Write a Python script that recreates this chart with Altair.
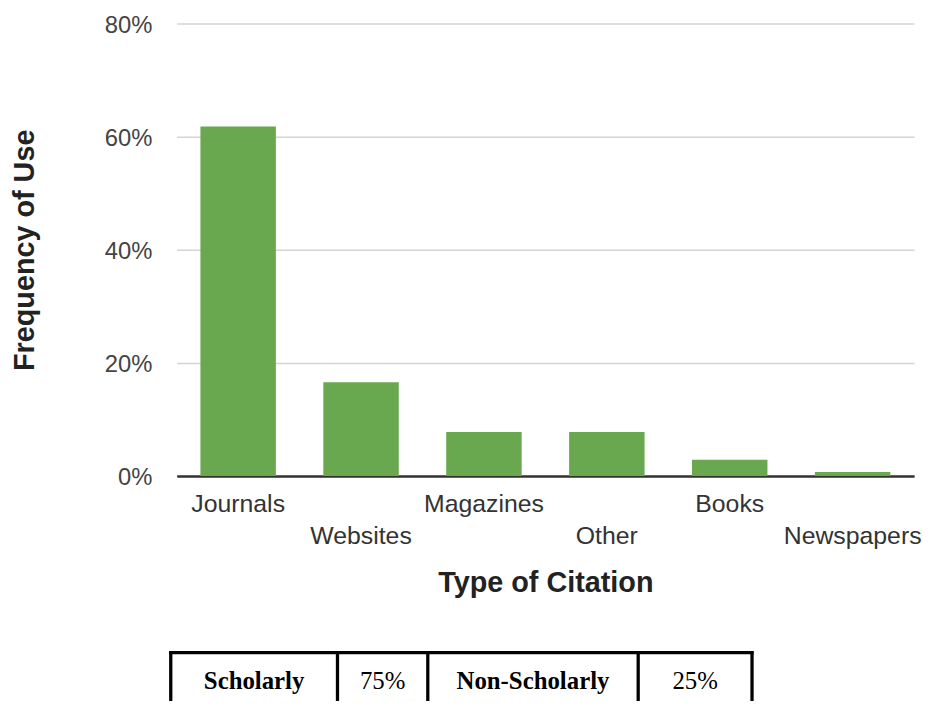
import altair as alt
import pandas as pd

# ---- data ----
categories = ["Journals", "Websites", "Magazines", "Other", "Books", "Newspapers"]
frequency = [0.618, 0.166, 0.078, 0.078, 0.029, 0.007]
y_ticks = [0, 0.2, 0.4, 0.6, 0.8]

table_cells = ["Scholarly", "75%", "Non-Scholarly", "25%"]
table_bold = [True, False, True, False]

# ---- layout (pixels, relative to plot origin) ----
W, H = 743, 456
col_edges = [-6, 162, 253, 465, 579.7]
table_top = 634
table_bottom = 720
text_baseline = 670.5
cell_centers = [(col_edges[i] + col_edges[i + 1]) / 2 for i in range(4)]

df = pd.DataFrame({"type": categories, "freq": frequency})

bars = alt.Chart(df).mark_bar(color="#6aa84f").encode(
    x=alt.X(
        "type:N",
        sort=None,
        scale=alt.Scale(paddingInner=0.386, paddingOuter=0.193),
        axis=alt.Axis(
            title="Type of Citation",
            labelAngle=0,
            labelExpr="indexof(domain('x'), datum.value) % 2 == 1 ? ['', datum.label] : datum.label",
            labelLineHeight=32,
            labelBaseline="top",
            labelPadding=16,
            labelFontSize=25,
            labelFont="Liberation Sans",
            labelColor="#333333",
            labelOverlap=False,
            ticks=False,
            domainColor="#333333",
            domainWidth=2.5,
            titleFont="Liberation Sans",
            titleFontSize=29,
            titleFontWeight="bold",
            titleColor="#222222",
            titleBaseline="alphabetic",
            titleY=116,
            titleX=W / 2,
        ),
    ),
    y=alt.Y(
        "freq:Q",
        scale=alt.Scale(domain=[0, 0.8], nice=False),
        axis=alt.Axis(
            title="Frequency of Use",
            values=y_ticks,
            format=".0%",
            ticks=False,
            domain=False,
            labelPadding=25,
            labelFont="Liberation Sans",
            labelFontSize=24,
            labelColor="#444444",
            labelBaseline="alphabetic",
            labelOffset=9,
            gridColor="#d4d4d4",
            gridWidth=1.5,
            titleFont="Liberation Sans",
            titleFontSize=29,
            titleFontWeight="bold",
            titleColor="#222222",
            titleBaseline="alphabetic",
            titleAngle=270,
            titleX=-144.5,
            titleY=H / 2,
        ),
    ),
)

# ---- table below the chart ----
vrules_df = pd.DataFrame({"x": col_edges, "y": [table_top - 1.6] * 5, "y2": [table_bottom] * 5})
vrules = alt.Chart(vrules_df).mark_rule(color="black", strokeWidth=3.3).encode(
    x=alt.X("x:Q", scale=None, axis=None),
    y=alt.Y("y:Q", scale=None, axis=None),
    y2="y2:Q",
)
hrule_df = pd.DataFrame({"x": [col_edges[0] - 1.6], "x2": [col_edges[-1] + 1.6], "y": [table_top]})
hrule = alt.Chart(hrule_df).mark_rule(color="black", strokeWidth=3.3).encode(
    x=alt.X("x:Q", scale=None, axis=None),
    x2="x2:Q",
    y=alt.Y("y:Q", scale=None, axis=None),
)

table_df = pd.DataFrame({"cell": table_cells, "bold": table_bold, "xc": cell_centers})
text_bold = alt.Chart(table_df).transform_filter("datum.bold").mark_text(
    font="Liberation Serif", fontSize=25, fontWeight="bold", color="black",
    align="center", baseline="alphabetic",
).encode(
    x=alt.X("xc:Q", scale=None, axis=None),
    y=alt.value(text_baseline),
    text="cell:N",
)
text_reg = alt.Chart(table_df).transform_filter("!datum.bold").mark_text(
    font="Liberation Serif", fontSize=25, color="black",
    align="center", baseline="alphabetic",
).encode(
    x=alt.X("xc:Q", scale=None, axis=None),
    y=alt.value(text_baseline),
    text="cell:N",
)

chart = alt.layer(bars, vrules, hrule, text_bold, text_reg).properties(
    width=W,
    height=H,
    autosize=alt.AutoSizeParams(type="none"),
    padding={"left": 170, "top": 13, "right": 10, "bottom": 224},
).configure_view(strokeWidth=0)

chart.save("out.html", embed_options={"renderer": "svg", "actions": False})
